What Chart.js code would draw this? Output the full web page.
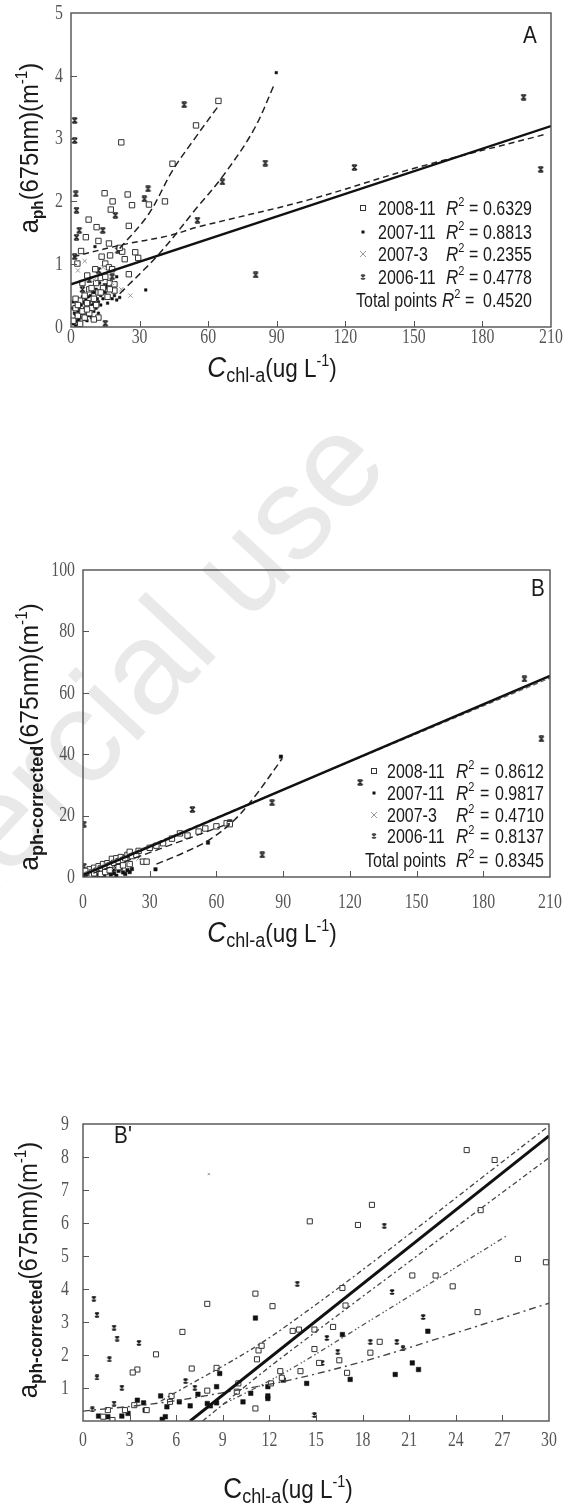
<!DOCTYPE html>
<html>
<head>
<meta charset="utf-8">
<script src="https://cdn.jsdelivr.net/npm/chart.js@4.4.1/dist/chart.umd.min.js"></script>
<style>
  html, body { margin: 0; padding: 0; background: #fff; }
  body { width: 567px; height: 1504px; position: relative; overflow: hidden; }
  canvas { position: absolute; left: 0; }
</style>
</head>
<body>
<canvas id="wm" width="567" height="1504" style="top:0px;width:567px;height:1504px"></canvas>
<canvas id="cA"  width="567" height="400" style="top:0px;width:567px;height:400px"></canvas>
<canvas id="cB"  width="567" height="410" style="top:550px;width:567px;height:410px"></canvas>
<canvas id="cBp" width="567" height="404" style="top:1100px;width:567px;height:404px"></canvas>
<script>
// ---------- shared labels ----------
const seriesNames = ['2008-11', '2007-11', '2007-3', '2006-11'];
const watermarkText = 'Non-commercial use';

// ---------- Panel A : a_ph(675) vs Chl-a ----------
const A_xTicks = [0, 30, 60, 90, 120, 150, 180, 210];
const A_yTicks = [0, 1, 2, 3, 4, 5];
const A_r2 = ['0.6329', '0.8813', '0.2355', '0.4778', '0.4520'];
const A_2008_11 = [
  [64.5,3.60],[54.7,3.21],[44.4,2.60],[22.0,2.94],[41.1,2.00],[34.1,1.95],[24.8,2.11],[18.2,2.00],
  [14.7,2.13],[17.4,1.87],[26.7,1.94],[7.7,1.71],[6.5,1.43],[11.2,1.59],[25.3,1.61],[4.4,1.21],
  [2.8,1.01],[12.0,1.37],[16.6,1.33],[22.4,1.20],[23.5,1.08],[28.1,1.19],[29.4,1.10],[21.3,1.26],
  [17.1,1.14],[7.1,0.82],[10.6,0.92],[25.3,0.84],[15.0,1.01],[16.6,0.95],[13.4,1.12],
  [1,0.10],[2,0.30],[3,0.18],[4,0.42],[5,0.25],[6,0.50],[7,0.38],[8,0.60],[9,0.30],[10,0.45],
  [11,0.70],[12,0.55],[13,0.78],[14,0.62],[15,0.80],[16,0.48],[17,0.70],[18,0.92],[19,0.58],
  [6,0.15],[4,0.05],[8,0.22],[12,0.15],[5,0.70],[9,0.62],[13,0.55],[17,0.60],[19,0.68],
  [2,0.45],[3,0.35],[7,0.28],[10,0.12],[11,0.35]
];
const A_2007_11 = [
  [1,0.05],[1.5,0.12],[2,0.20],[2.5,0.10],[3,0.25],[3.5,0.30],[4,0.15],[4.5,0.35],[5,0.22],[5.5,0.40],
  [6,0.30],[6.5,0.45],[7,0.20],[7.5,0.38],[8,0.28],[8.5,0.50],[9,0.35],[9.5,0.42],[10,0.25],[10.5,0.55],
  [11,0.60],[11.5,0.45],[12,0.40],[12.5,0.70],[13,0.50],[13.5,0.62],[14,0.45],[15,0.55],[15.5,0.65],
  [16,0.50],[17,0.72],[17.5,0.60],[18,0.45],[19,0.50],[20,0.80],[21.3,0.47],[20,0.43],[2,0.02],
  [3,0.08],[6,0.12],[8,0.18],[10.5,1.28],[32.7,0.59],[89.8,4.05],
  [0.5,0.30],[1,0.40],[1.5,0.22],[2.5,0.35],[3,0.45],[3.5,0.12],[4,0.28],[4.5,0.05],[5,0.48],
  [5.5,0.18],[6,0.38],[7,0.10],[7.5,0.48],[8,0.40],[9,0.15],[9.5,0.55],[10,0.38],[11,0.30],
  [12,0.22],[13,0.35],[14,0.58],[16,0.38]
];
const A_2007_3 = [[3,0.9],[6,1.05],[10,0.75],[14,0.95],[18,0.70],[22,0.60],[26,0.50]];
const A_2006_11 = [
  [198,3.66],[205.5,2.51],[124,2.54],[85,2.61],[80.8,0.83],[49.5,3.54],[66.2,2.31],[55.3,1.70],
  [1.6,3.29],[1.6,2.97],[2.1,2.12],[2.4,1.86],[2.4,1.43],[3.6,1.54],[1.6,1.12],[33.7,2.20],
  [32.1,2.04],[19.4,1.78],[13.9,1.54],[15.0,0.06],[20.5,1.22],[5,0.60],[8,0.75],[12,0.90],
  [15,0.65],[18,0.80],[3,0.40]
];
const A_fitTotal  = [[0,0.68],[210,3.20]];
const A_fit2008   = [[21.3,1.25],[34,1.80],[44.4,2.49],[54.5,3.02],[64.5,3.52]];
const A_fit2007   = [[21.3,0.53],[38.7,1.17],[55.3,1.91],[66.2,2.39],[79.8,3.13],[89.3,3.89]];
const A_fit2006   = [[1,1.12],[21.3,1.30],[43.5,1.46],[55.3,1.59],[103.5,2.02],[149.4,2.52],[207.8,3.07]];

// ---------- Panel B : corrected a_ph(675) vs Chl-a ----------
const B_xTicks = [0, 30, 60, 90, 120, 150, 180, 210];
const B_yTicks = [0, 20, 40, 60, 80, 100];
const B_r2 = ['0.8612', '0.9817', '0.4710', '0.8137', '0.8345'];
const B_2008_11 = [
  [2,1],[3,2.5],[4,1.5],[5,3],[6,2],[7,3.5],[8,2.8],[9,4.2],[10,3],[11,4.5],[12,3.8],[13,5.9],[14,4.6],
  [15,6.1],[16,5.2],[17,6.5],[18,5.5],[19,6.1],[20,7.2],[21,8.2],[22,6.8],[24,7.2],[25,8.5],[27,5.0],
  [28.6,5.0],[30,9.5],[33,10.2],[36,11],[40,12.5],[43.6,14.2],[47,13.5],[52,14.8],[55,15.8],[60,16.5],
  [64.6,17.5],[66,17.2],[1,2],[3,0.5],[5,1.2],[8,1.0],[10,1.6],[12,2.2],[16,3.2],[18,3.8],[21,4.2]
];
const B_2007_11 = [
  [1,0.3],[2,0.8],[3,0.5],[4,1.2],[5,0.7],[6,1.5],[7,1.0],[8,1.8],[9,1.2],[10,2.0],[11,1.5],[12,2.3],
  [13,1.8],[14,2.6],[15,0.4],[16,2.0],[18,1.5],[20,2.2],[32.6,2.5],[56.2,11.2],[89,39.2],
  [0.5,1.5],[1.5,2.2],[2.5,1.6],[3.5,2.8],[4.5,0.3],[6.5,0.6],[7.5,2.4],[9.5,0.5],[11,3.0],
  [12.5,0.8],[14,1.2],[17,2.8],[19,1.0],[21,1.6],[22,2.6]
];
const B_2007_3 = [[2,1],[6,2.5],[10,4],[14,3],[20,5],[25,6]];
const B_2006_11 = [
  [0.4,17.2],[0.4,3.5],[49.2,22],[80.6,7.2],[85,24.2],[124.6,30.8],[198.5,64.5],[206.1,45.0],
  [66,17.8],[5,2],[10,3],[15,4],[3,1]
];
const B_fitTotal = [[0,0.6],[210,65.5]];
const B_fit2006  = [[0,1.2],[210,64.8]];
const B_fit2008  = [[0,0],[66,17.5]];
const B_fit2007  = [[33,4.2],[45,7.8],[57,12.2],[68,18.5],[77,26],[89.5,38.5]];

// ---------- Panel B' : low-concentration detail ----------
const Bp_xTicks = [0, 3, 6, 9, 12, 15, 18, 21, 24, 27, 30];
const Bp_yTicks = [0, 1, 2, 3, 4, 5, 6, 7, 8, 9];
const Bp_2008_11 = [
  [24.7,8.21],[26.5,7.91],[18.6,6.55],[17.7,5.94],[14.6,6.05],[25.6,6.39],[28.0,4.91],[29.8,4.81],
  [21.2,4.41],[22.7,4.41],[23.8,4.08],[16.7,4.03],[16.9,3.50],[25.4,3.30],[11.1,3.86],[12.2,3.48],
  [8.0,3.55],[6.4,2.70],[13.5,2.73],[13.9,2.77],[14.9,2.77],[16.1,2.85],[14.9,2.18],[11.3,2.14],
  [11.5,2.28],[11.2,1.87],[15.2,1.76],[16.5,1.84],[17.0,1.46],[19.1,2.40],[18.5,2.07],[14.0,1.51],
  [12.7,1.51],[12.8,1.31],[12.1,1.14],[10.0,1.14],[9.9,0.89],[8.6,1.61],[7.0,1.59],[4.7,2.02],
  [3.5,1.56],[3.2,1.47],[11.1,0.38],[8.0,0.92],[3.3,0.48],[1.6,0.33],[1.3,0.13],[4.1,0.33],
  [5.7,0.76],[5.6,0.58],[2.7,0.33],[1.9,0.03]
];
const Bp_2007_11 = [
  [11.1,3.12],[16.7,2.62],[22.2,2.72],[21.2,1.76],[21.6,1.56],[20.1,1.41],[17.2,1.26],[12.9,1.24],
  [14.4,1.14],[11.9,1.04],[11.9,0.68],[11.9,0.76],[10.3,0.58],[10.8,0.84],[8.8,1.44],[7.4,0.81],
  [6.9,0.46],[8.2,0.46],[8.6,0.55],[8.0,0.53],[5.4,0.43],[5.3,0.13],[5.1,0.05],[4.0,0.33],[3.9,0.55],
  [3.5,0.63],[2.9,0.23],[2.5,0.15],[1.6,0.13],[1.0,0.15],[6.2,0.58],[5.0,0.76],[8.6,1.04]
];
const Bp_2007_3 = [[8.1,7.48]];
const Bp_2006_11 = [
  [0.7,3.71],[0.9,3.22],[2.0,2.83],[2.2,2.50],[1.7,1.87],[3.6,2.37],[2.5,1.01],[0.9,1.32],[13.8,4.16],
  [19.4,5.92],[19.9,3.91],[21.9,3.15],[20.6,2.20],[20.2,2.40],[18.5,2.40],[16.4,2.10],[15.7,2.52],
  [15.4,1.76],[6.6,1.21],[7.2,1.01],[14.9,0.18],[0.6,0.35],[2.0,0.53]
];
const Bp_fitTotal = [[6.9,0],[30,8.64]];
const Bp_fitA     = [[5.0,0.6],[12.7,2.75],[30,8.94]];
const Bp_fitB     = [[7.7,0],[12.7,1.89],[30,7.98]];
const Bp_fitC     = [[9.0,0.5],[13.1,1.5],[18.5,3.05],[27.3,5.62]];
const Bp_fitD     = [[0,0.3],[5,0.55],[9.5,0.9],[13.3,1.24],[18,1.8],[23.2,2.55],[30,3.57]];

// ---------- faint diagonal watermark behind the panels ----------
(function () {
  const g = document.getElementById('wm').getContext('2d');
  g.save();
  g.translate(392, 468);
  g.rotate(-47 * Math.PI / 180);
  g.font = '132px "Liberation Sans", Arial, sans-serif';
  g.textAlign = 'right';
  g.textBaseline = 'alphabetic';
  g.fillStyle = 'rgba(0,0,0,0.085)';
  g.fillText(watermarkText, 0, 0);
  g.restore();
})();

// ---------- marker images ----------
function hourglass(size, color) {
  const c = document.createElement('canvas');
  c.width = size; c.height = size;
  const g = c.getContext('2d');
  g.strokeStyle = color; g.lineWidth = 1.3;
  const m = 1, s = size - 1;
  g.beginPath();
  g.moveTo(m, m); g.lineTo(s, s);
  g.moveTo(s, m); g.lineTo(m, s);
  g.moveTo(m + 0.5, m); g.lineTo(s - 0.5, m);
  g.moveTo(m + 0.5, s); g.lineTo(s - 0.5, s);
  g.stroke();
  return c;
}
const hgA = hourglass(7, '#222');
const hgB = hourglass(7, '#222');
const hgBp = hourglass(6, '#111');

const toXY = arr => arr.map(p => ({ x: p[0], y: p[1] }));

function scatterSet(data, style) {
  return Object.assign({ type: 'scatter', data: toXY(data), showLine: false, pointHoverRadius: 0 }, style);
}
function lineSet(data, style) {
  return Object.assign({
    type: 'scatter', data: toXY(data), showLine: true, pointRadius: 0, pointHoverRadius: 0,
    fill: false, tension: 0.35, borderColor: '#222', backgroundColor: 'transparent'
  }, style);
}

// ---------- text helpers ----------
function richWidth(ctx, parts, sx) {
  let w = 0;
  parts.forEach(p => { ctx.font = p.font; w += ctx.measureText(p.t).width * (p.sx || sx); });
  return w;
}
function drawRich(ctx, parts, x, y, sx, align, color) {
  const w = richWidth(ctx, parts, sx);
  let cx = align === 'center' ? x - w / 2 : (align === 'right' ? x - w : x);
  ctx.fillStyle = color;
  ctx.textBaseline = 'alphabetic';
  ctx.textAlign = 'left';
  parts.forEach(p => {
    const k = p.sx || sx;
    ctx.save();
    ctx.font = p.font;
    ctx.translate(cx, y + (p.dy || 0));
    ctx.scale(k, 1);
    ctx.fillText(p.t, 0, 0);
    ctx.restore();
    ctx.font = p.font;
    cx += ctx.measureText(p.t).width * k;
  });
}
function condText(ctx, s, x, y, font, sx, align, color) {
  ctx.save();
  ctx.font = font;
  ctx.fillStyle = color;
  ctx.textBaseline = 'middle';
  ctx.textAlign = align;
  ctx.translate(x, y);
  ctx.scale(sx, 1);
  ctx.fillText(s, 0, 0);
  ctx.restore();
}

// ---------- frame, ticks, titles and legend ----------
const decor = {
  id: 'decor',
  afterDraw(chart, args, o) {
    const { ctx, chartArea: a } = chart;
    const x = chart.scales.x, y = chart.scales.y;
    ctx.save();
    // inward tick marks
    ctx.strokeStyle = '#555';
    ctx.lineWidth = 1;
    ctx.beginPath();
    x.ticks.forEach(t => {
      const px = Math.round(x.getPixelForValue(t.value)) + 0.5;
      if (px > a.left + 2 && px < a.right - 2) { ctx.moveTo(px, a.bottom); ctx.lineTo(px, a.bottom - 6); }
    });
    y.ticks.forEach(t => {
      const py = Math.round(y.getPixelForValue(t.value)) + 0.5;
      if (py > a.top + 2 && py < a.bottom - 2) { ctx.moveTo(a.left, py); ctx.lineTo(a.left + 6, py); }
    });
    ctx.stroke();
    // frame
    ctx.strokeStyle = '#505050';
    ctx.lineWidth = 1.4;
    ctx.strokeRect(a.left, a.top, a.right - a.left, a.bottom - a.top);
    // tick labels
    const tf = '22px "Liberation Serif", "DejaVu Serif", serif';
    x.ticks.forEach(t => {
      condText(ctx, String(t.value), x.getPixelForValue(t.value), o.xLabelY, tf, 0.72, 'center', '#555');
    });
    y.ticks.forEach(t => {
      if (o.skipY0 && t.value === 0) return;
      condText(ctx, String(t.value), o.yLabelX, y.getPixelForValue(t.value), tf, 0.72, 'right', '#555');
    });
    // panel letter
    condText(ctx, o.letter, o.letterX, o.letterY, '23px "Liberation Sans", Arial, sans-serif', 0.9, 'center', '#1a1a1a');
    // x title
    const sans = '"Liberation Sans", Arial, sans-serif';
    drawRich(ctx, [
      { t: 'C', font: (o.italicC ? 'italic ' : '') + '29px ' + sans },
      { t: 'chl-a', font: '20px ' + sans, dy: 5 },
      { t: '(ug L', font: '25px ' + sans },
      { t: '-1', font: '16px ' + sans, dy: -11 },
      { t: ')', font: '25px ' + sans }
    ], o.xTitleX, o.xTitleY, 0.9, 'center', '#1a1a1a');
    // y title (rotated)
    ctx.save();
    ctx.translate(o.yTitleX, o.yTitleY);
    ctx.rotate(-Math.PI / 2);
    drawRich(ctx, [
      { t: 'a', font: (o.yMain + 2) + 'px ' + sans },
      { t: o.ySub, font: 'bold ' + o.ySubSize + 'px ' + sans, dy: 5 },
      { t: '(675nm)(m', font: o.yMain + 'px ' + sans },
      { t: '-1', font: '16px ' + sans, dy: -11 },
      { t: ')', font: o.yMain + 'px ' + sans }
    ], 0, 0, 0.95, 'center', '#1a1a1a');
    ctx.restore();
    // legend
    if (o.legend) {
      const L = o.legend;
      const lf = '20px "Liberation Sans", Arial, sans-serif';
      const lfi = 'italic 20px "Liberation Sans", Arial, sans-serif';
      const sup = '13px "Liberation Sans", Arial, sans-serif';
      const base = 7;
      L.rows.forEach((ry, i) => {
        const isTotal = i === 4;
        if (!isTotal) {
          const mx = L.markX;
          if (i === 0) {
            ctx.strokeStyle = '#333'; ctx.lineWidth = 1; ctx.fillStyle = '#fff';
            ctx.fillRect(mx - 2.5, ry - 2.5, 5, 5); ctx.strokeRect(mx - 2.5, ry - 2.5, 5, 5);
          } else if (i === 1) {
            ctx.fillStyle = '#111'; ctx.fillRect(mx - 1.5, ry - 1.5, 3, 3);
          } else if (i === 2) {
            ctx.strokeStyle = '#999'; ctx.lineWidth = 1;
            ctx.beginPath(); ctx.moveTo(mx - 3, ry - 3); ctx.lineTo(mx + 3, ry + 3);
            ctx.moveTo(mx + 3, ry - 3); ctx.lineTo(mx - 3, ry + 3); ctx.stroke();
          } else {
            ctx.drawImage(hourglass(6, '#444'), mx - 3, ry - 3);
          }
          drawRich(ctx, [{ t: seriesNames[i], font: lf }], L.nameX, ry + base, 0.8, 'left', '#1a1a1a');
        } else {
          drawRich(ctx, [{ t: 'Total points', font: lf }], L.totalX, ry + base, 0.8, 'left', '#1a1a1a');
        }
        drawRich(ctx, [{ t: 'R', font: lfi }, { t: '2', font: sup, dy: -9 }],
          isTotal ? L.totalRX : L.rX, ry + base, 0.85, 'left', '#1a1a1a');
        drawRich(ctx, [{ t: '=', font: lf }], isTotal ? L.totalEqX : L.eqX, ry + base, 0.8, 'left', '#1a1a1a');
        drawRich(ctx, [{ t: o.r2[i], font: lf }], L.valX, ry + base, 0.8, 'left', '#1a1a1a');
      });
    }
    ctx.restore();
  }
};

function makeChart(id, cfg) {
  const cv = document.getElementById(id);
  const H = cv.height;
  return new Chart(cv, {
    data: { datasets: cfg.datasets },
    options: {
      responsive: false,
      animation: false,
      events: [],
      layout: { padding: { left: 0, right: 567 - cfg.area.right, top: cfg.area.top, bottom: 0 } },
      plugins: { legend: { display: false }, tooltip: { enabled: false }, decor: cfg.decor },
      scales: {
        x: {
          type: 'linear', min: cfg.xTicks[0], max: cfg.xTicks[cfg.xTicks.length - 1],
          afterBuildTicks: s => { s.ticks = cfg.xTicks.map(v => ({ value: v })); },
          afterFit: s => { s.height = H - cfg.area.bottom; },
          ticks: { display: false }, grid: { display: false }, border: { display: false }
        },
        y: {
          type: 'linear', min: cfg.yTicks[0], max: cfg.yTicks[cfg.yTicks.length - 1],
          afterBuildTicks: s => { s.ticks = cfg.yTicks.map(v => ({ value: v })); },
          afterFit: s => { s.width = cfg.area.left; },
          ticks: { display: false }, grid: { display: false }, border: { display: false }
        }
      }
    },
    plugins: [decor]
  });
}

const sqStyle = r => ({ pointStyle: 'rect', pointRadius: r, borderColor: '#333', backgroundColor: '#fff', borderWidth: 1 });
const dotStyle = r => ({ pointStyle: 'rect', pointRadius: r, borderColor: '#111', backgroundColor: '#111', borderWidth: 0.5 });
const xStyle = r => ({ pointStyle: 'crossRot', pointRadius: r, borderColor: '#9a9a9a', borderWidth: 1 });
const hgStyle = img => ({ pointStyle: img, pointRadius: 3 });

// Panel A
makeChart('cA', {
  area: { left: 71, right: 551, top: 13, bottom: 327 },
  xTicks: A_xTicks, yTicks: A_yTicks,
  datasets: [
    lineSet(A_fitTotal, { borderWidth: 2.4, borderColor: '#111', tension: 0 }),
    lineSet(A_fit2008, { borderWidth: 1.5, borderDash: [7, 4] }),
    lineSet(A_fit2007, { borderWidth: 1.5, borderDash: [7, 4] }),
    lineSet(A_fit2006, { borderWidth: 1.5, borderDash: [6, 4] }),
    scatterSet(A_2007_3, xStyle(3)),
    scatterSet(A_2008_11, sqStyle(3.8)),
    scatterSet(A_2007_11, dotStyle(1.8)),
    scatterSet(A_2006_11, hgStyle(hgA))
  ],
  decor: {
    letter: 'A', letterX: 530, letterY: 37,
    xLabelY: 337, yLabelX: 63,
    xTitleX: 272, xTitleY: 377, italicC: true,
    yTitleX: 38, yTitleY: 148, yMain: 25, ySub: 'ph', ySubSize: 16,
    r2: A_r2,
    legend: { rows: [208, 232, 254, 277, 300], markX: 363, nameX: 378, rX: 446, eqX: 469, valX: 483,
              totalX: 356, totalRX: 442, totalEqX: 465 }
  }
});

// Panel B
makeChart('cB', {
  area: { left: 83, right: 550, top: 20, bottom: 327 },
  xTicks: B_xTicks, yTicks: B_yTicks,
  datasets: [
    lineSet(B_fitTotal, { borderWidth: 2.4, borderColor: '#111', tension: 0 }),
    lineSet(B_fit2006, { borderWidth: 1.2, borderDash: [5, 3], borderColor: '#666', tension: 0 }),
    lineSet(B_fit2008, { borderWidth: 1.3, borderDash: [7, 4], tension: 0 }),
    lineSet(B_fit2007, { borderWidth: 1.5, borderDash: [7, 4] }),
    scatterSet(B_2007_3, xStyle(3)),
    scatterSet(B_2008_11, sqStyle(3.8)),
    scatterSet(B_2007_11, dotStyle(2.4)),
    scatterSet(B_2006_11, hgStyle(hgB))
  ],
  decor: {
    letter: 'B', letterX: 538, letterY: 40,
    xLabelY: 352, yLabelX: 75,
    xTitleX: 272, xTitleY: 392, italicC: true,
    yTitleX: 38, yTitleY: 187, yMain: 26, ySub: 'ph-corrected', ySubSize: 19,
    r2: B_r2,
    legend: { rows: [221, 243, 265, 286, 310], markX: 374, nameX: 387, rX: 456, eqX: 480, valX: 495,
              totalX: 365, totalRX: 456, totalEqX: 479 }
  }
});

// Panel B'
makeChart('cBp', {
  area: { left: 83, right: 549, top: 24, bottom: 321 },
  xTicks: Bp_xTicks, yTicks: Bp_yTicks,
  datasets: [
    lineSet(Bp_fitTotal, { borderWidth: 3, borderColor: '#111', tension: 0 }),
    lineSet(Bp_fitA, { borderWidth: 1.3, borderDash: [5, 3, 2, 3], borderColor: '#444' }),
    lineSet(Bp_fitB, { borderWidth: 1.3, borderDash: [5, 3, 2, 3], borderColor: '#444' }),
    lineSet(Bp_fitC, { borderWidth: 1.3, borderDash: [5, 3, 1.5, 2, 1.5, 3], borderColor: '#555' }),
    lineSet(Bp_fitD, { borderWidth: 1.4, borderDash: [7, 4, 2, 4], borderColor: '#444' }),
    scatterSet(Bp_2007_3, xStyle(1.5)),
    scatterSet(Bp_2008_11, sqStyle(3.6)),
    scatterSet(Bp_2007_11, dotStyle(3.2)),
    scatterSet(Bp_2006_11, hgStyle(hgBp))
  ],
  decor: {
    letter: "B'", letterX: 123, letterY: 37, skipY0: true,
    xLabelY: 340, yLabelX: 69,
    xTitleX: 288, xTitleY: 398, italicC: false,
    yTitleX: 37, yTitleY: 170, yMain: 25, ySub: 'ph-corrected', ySubSize: 18,
    r2: null, legend: null
  }
});
</script>
</body>
</html>
